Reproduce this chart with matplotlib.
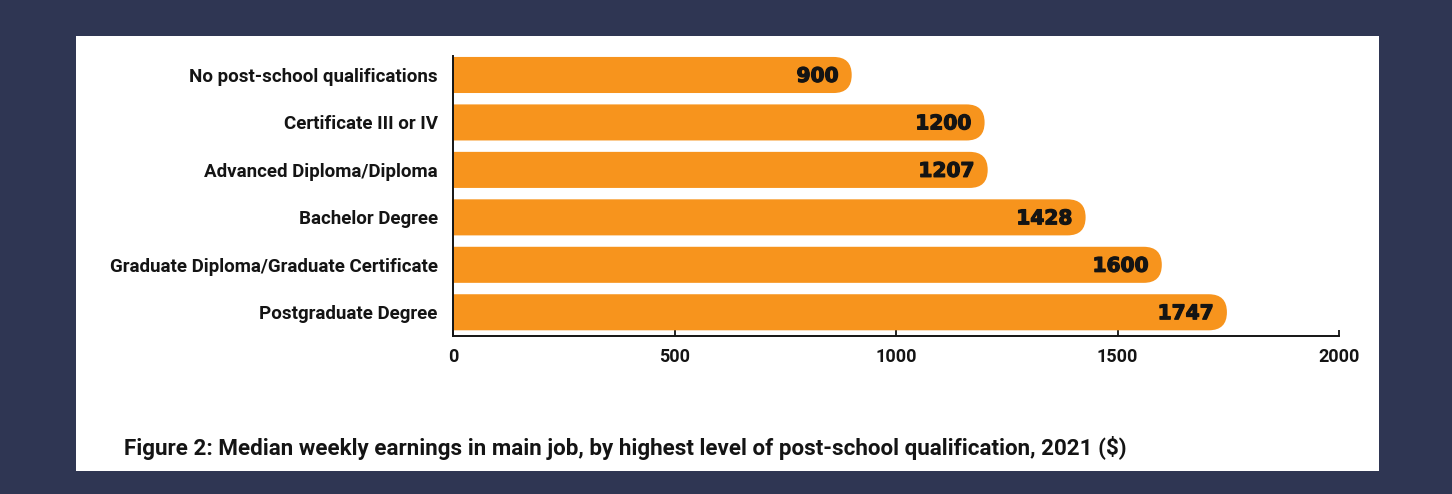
import matplotlib
matplotlib.use("Agg")
import matplotlib.pyplot as plt
import matplotlib.patheffects as pe
from matplotlib.patches import FancyBboxPatch, Rectangle

plt.rcParams['font.family'] = ['Roboto', 'DejaVu Sans']

categories = [
    "No post-school qualifications",
    "Certificate III or IV",
    "Advanced Diploma/Diploma",
    "Bachelor Degree",
    "Graduate Diploma/Graduate Certificate",
    "Postgraduate Degree",
]
earnings = [900, 1200, 1207, 1428, 1600, 1747]
xticks = [0, 500, 1000, 1500, 2000]
caption = "Figure 2: Median weekly earnings in main job, by highest level of post-school qualification, 2021 ($)"

navy = "#2f3653"
orange = "#f7941d"
ink = "#141414"

W, H = 1452, 494
fig = plt.figure(figsize=(W / 100, H / 100), dpi=100)
fig.patch.set_facecolor(navy)

# white panel behind everything
bg = fig.add_axes([76 / W, (H - 471) / H, 1303 / W, 435 / H], zorder=-1)
bg.axis("off")
bg.add_patch(Rectangle((0, 0), 1, 1, transform=bg.transAxes,
                       facecolor="white", edgecolor="none"))

ax_l, ax_r, ax_t, ax_b = 453, 1339, 56, 336
ax = fig.add_axes([ax_l / W, (H - ax_b) / H, (ax_r - ax_l) / W, (ax_b - ax_t) / H])
ax.set_facecolor("none")
ax.set_xlim(0, 2000)
ax.set_ylim(5.5, -0.4)

bar_h = 0.76
ypos = list(range(len(categories)))

# keep the rounded ends circular on screen
x_px = (ax_r - ax_l) / 2000.0
y_px = (ax_b - ax_t) / 5.9
aspect = x_px / y_px
radius = (bar_h / 2) * y_px / x_px

for y, v in zip(ypos, earnings):
    # start left of 0 so the axes clip gives a square left end
    ax.add_patch(FancyBboxPatch((-3 * radius, y - bar_h / 2), v + 3 * radius, bar_h,
                                boxstyle=f"round,pad=0,rounding_size={radius}",
                                mutation_aspect=aspect,
                                facecolor=orange, edgecolor="none", zorder=2))
    t = ax.text(v - 30, y + 0.03, str(v), ha="right", va="center",
                fontsize=14.5, fontweight="heavy", color=ink,
                family=["DejaVu Sans"], zorder=3)
    t.set_path_effects([pe.withStroke(linewidth=0.9, foreground=ink)])

ax.set_yticks(ypos)
ax.set_yticklabels(categories, fontsize=13.5, fontweight="bold", color=ink)
ax.tick_params(axis="y", length=0, pad=11)

ax.set_xticks(xticks)
ax.set_xticklabels([str(t) for t in xticks], fontsize=13, fontweight="bold", color=ink)
ax.tick_params(axis="x", direction="in", length=4.5, width=1.3, color=ink, pad=9)

for s in ["top", "right"]:
    ax.spines[s].set_visible(False)
for s in ["left", "bottom"]:
    ax.spines[s].set_linewidth(1.4)
    ax.spines[s].set_color(ink)

fig.text(124 / W, (H - 448) / H, caption, ha="left", va="center",
         fontsize=16.1, fontweight="bold", color=ink)

fig.savefig("out.png", dpi=100, facecolor=navy)
